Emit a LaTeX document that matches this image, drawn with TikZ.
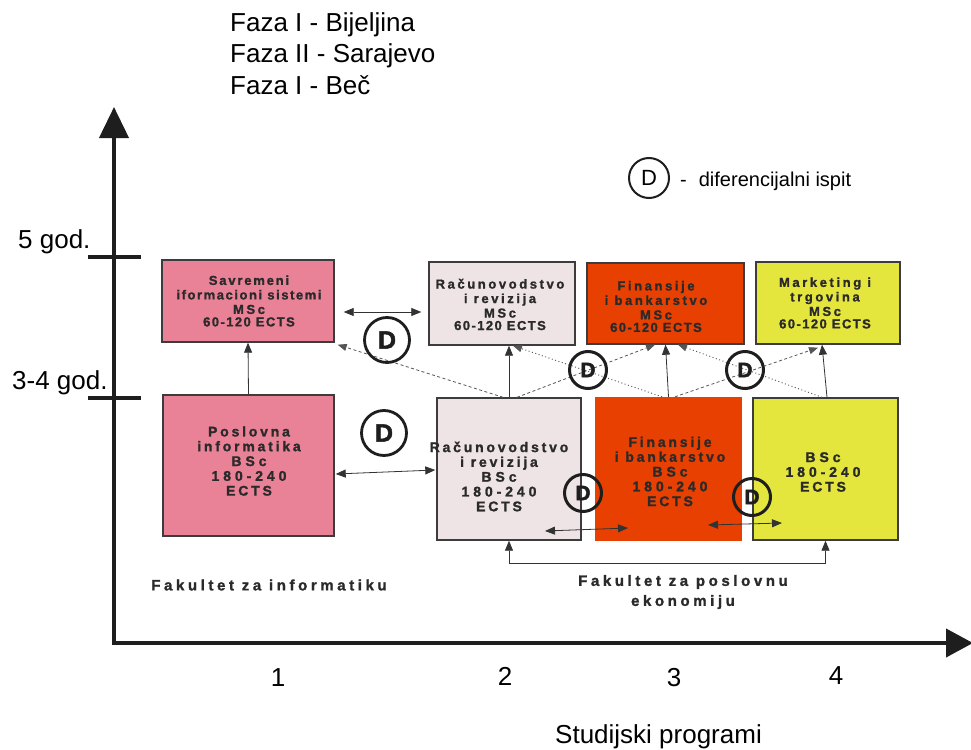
\documentclass[tikz,border=0pt]{standalone}
\usepackage{fontspec}
\setmainfont{Liberation Sans}
\newfontfamily\bxf[BoldFeatures={FakeBold=1.4}]{Liberation Sans}
\newfontfamily\Dfont[BoldFeatures={FakeBold=2}]{Liberation Sans}
\usetikzlibrary{arrows.meta,calc}
\newcommand\LS[1]{\addfontfeature{LetterSpace=#1}}
\definecolor{pinkc}{HTML}{E98297}
\definecolor{lightc}{HTML}{EEE4E6}
\definecolor{orangec}{HTML}{E84000}
\definecolor{yellowc}{HTML}{E4E63E}
\definecolor{borderc}{HTML}{3C3C3C}
\definecolor{textc}{HTML}{2A2A2A}
\definecolor{linec}{HTML}{333333}
\definecolor{dashc}{HTML}{555555}
\definecolor{axisc}{HTML}{1E1E1E}
\tikzset{
  box/.style={draw=borderc, line width=1.4pt, inner sep=0pt},
  msc/.style={font=\fontsize{13}{14.5}\selectfont\bxf\bfseries\LS{20}, align=center, text=textc, inner sep=0pt},
  bsc/.style={font=\fontsize{14}{14.8}\selectfont\bxf\bfseries\LS{20}, align=center, text=textc, inner sep=0pt},
  fak/.style={font=\fontsize{15}{20}\selectfont\bxf\bfseries\LS{24}, align=center, text=textc, inner sep=0pt},
  big/.style={font=\fontsize{26}{31}\selectfont, text=black, inner sep=0pt},
  dbig/.style={circle, draw=axisc, line width=2.8pt, minimum size=45pt, inner sep=0pt, font=\fontsize{25}{25}\selectfont\Dfont\bfseries, text=axisc},
  dsmall/.style={circle, draw=axisc, line width=3pt, minimum size=37pt, inner sep=0pt, font=\fontsize{21}{21}\selectfont\Dfont\bfseries, text=axisc},
  axis/.style={draw=axisc, line width=4pt},
  arr/.style={draw=linec, line width=0.8pt, -{Triangle[length=10pt,width=8pt]}},
  darr/.style={draw=linec, line width=0.8pt, {Triangle[length=10pt,width=8pt]}-{Triangle[length=10pt,width=8pt]}},
  dsh/.style={draw=dashc, line width=0.8pt, dash pattern=on 3pt off 2.5pt, -{Triangle[length=9pt,width=7pt]}},
  dtt/.style={draw=dashc, line width=0.9pt, dash pattern=on 1pt off 2.5pt, -{Triangle[length=9pt,width=7pt]}},
}
\begin{document}
\begin{tikzpicture}[x=1pt,y=-1pt]
\useasboundingbox[fill=white] (0,0) rectangle (971,749);

% axes
\coordinate (ytop) at (114,107);
\coordinate (orig) at (114,643);
\coordinate (xend) at (973,643);
\draw[axis, {Triangle[length=31pt,width=29pt]}-{Triangle[length=27pt,width=28pt]}] (ytop) -- (orig) -- (xend);
\coordinate (t5a) at (88,257); \coordinate (t5b) at (141,257);
\coordinate (t3a) at (88,398); \coordinate (t3b) at (141,398);
\draw[axis] (t5a) -- (t5b);
\draw[axis] (t3a) -- (t3b);
\node[big, anchor=base west] (g5) at (18,248) {5 god.};
\node[big, anchor=base west] (g34) at (12,389) {3-4 god.};

% top texts
\node[big, anchor=base west] (f1) at (230,32) {Faza I - Bijeljina};
\node[big, anchor=base west] (f2) at (230,63) {Faza II - Sarajevo};
\node[big, anchor=base west] (f3) at (230,95) {Faza I - Beč};

% legend
\node[circle, draw=axisc, line width=2pt, minimum size=40pt, inner sep=0pt, font=\fontsize{22}{22}\selectfont] (legD) at (649,178) {D};
\node[font=\fontsize{20}{24}\selectfont, anchor=base west, inner sep=0pt] (legT) at (680,186) {-\hspace{0.6em}diferencijalni ispit};

% boxes
\node[box, fill=pinkc, minimum width=172pt, minimum height=82pt] (box1) at (248,301) {};
\node[box, fill=lightc, minimum width=146pt, minimum height=83pt] (box2) at (502,303.5) {};
\node[box, fill=orangec, minimum width=157pt, minimum height=81pt] (box3) at (665.5,303.5) {};
\node[box, fill=yellowc, minimum width=144pt, minimum height=82pt] (box4) at (828,303) {};
\node[box, fill=pinkc, minimum width=171pt, minimum height=141pt] (box5) at (248.5,465.5) {};
\node[box, fill=lightc, minimum width=144pt, minimum height=142pt] (box6) at (509,469) {};
\node[fill=orangec, inner sep=0pt, minimum width=147pt, minimum height=144pt] (box7) at (668.5,469) {};
\node[box, fill=yellowc, minimum width=145pt, minimum height=142pt] (box8) at (825.5,469) {};

% box texts
\node[msc] (tx1) at (249,301) {{\LS{14}Savremeni}\\{\LS{12}iformacioni sistemi}\\MSc\\[-2pt]{\LS{11}60-120 ECTS}};
\node[msc] (tx2) at (500,304.5) {Računovodstvo\\i revizija\\MSc\\[-2pt]{\LS{11}60-120 ECTS}};
\node[msc] (tx3) at (656,306.5) {Finansije\\i bankarstvo\\MSc\\[-2pt]{\LS{11}60-120 ECTS}};
\node[msc] (tx4) at (825,303) {Marketing i\\trgovina\\MSc\\[-2pt]{\LS{11}60-120 ECTS}};
\node[bsc] (tx5) at (249,461) {Poslovna\\informatika\\{\LS{28}BSc}\\{\LS{28}180-240}\\ECTS};
\node[bsc] (tx6) at (499,476.5) {Računovodstvo\\i revizija\\{\LS{28}BSc}\\{\LS{28}180-240}\\ECTS};
\node[bsc] (tx7) at (670,471.5) {Finansije\\i bankarstvo\\{\LS{28}BSc}\\{\LS{28}180-240}\\ECTS};
\node[bsc] (tx8) at (823,472) {{\LS{28}BSc}\\{\LS{28}180-240}\\ECTS};

% solid arrows
\draw[arr] (box5.north) -- (box1.south);
\draw[arr] (box6.north) -- (box6.north |- box2.south);
\draw[arr] (box7.north) -- (box3.south);
\draw[arr] ([xshift=1.5pt]box8.north) -- ([xshift=-6pt]box4.south);
\draw[darr] ([shift={(9,11)}]box1.east) -- ([shift={(-7,8.5)}]box2.west);
\draw[darr] ([shift={(1,8.5)}]box5.east) -- ([shift={(-1,1)}]box6.west);
\draw[darr] ([shift={(36,62)}]box6.center) -- ([shift={(-40.5,59)}]box7.center);
\draw[darr] ([shift={(39.5,56)}]box7.center) -- ([shift={(-43.5,54)}]box8.center);
\draw[darr] (box6.south) -- ++(0,23) -| (box8.south);

% dashed / dotted
\draw[dsh] ([xshift=-6pt]box6.north) -- ([shift={(3,2)}]box1.south east);
\draw[dsh] ([xshift=8pt]box6.north) -- ([xshift=-10.5pt]box3.south);
\draw[dtt] ([xshift=-6.5pt]box7.north) -- ([xshift=11pt]box2.south);
\draw[dsh] ([xshift=6.5pt]box7.north) -- ([shift={(-10,3)}]box4.south);
\draw[dtt] ([xshift=-3.5pt]box8.north) -- ([xshift=12.5pt]box3.south);

% D circles
\node[dbig] (d1) at (387,340) {D};
\node[dbig] (d2) at (384,433) {D};
\node[dsmall] (d3) at (588,370) {D};
\node[dsmall] (d4) at (745,370) {D};
\node[dsmall] (d5) at (583,493) {D};
\node[dsmall] (d6) at (752,497) {D};

% faculty labels
\node[fak] (fi) at (269,585) {Fakultet za informatiku};
\node[fak] (fe) at (683,592) {Fakultet za poslovnu\\ekonomiju};

% axis labels
\node[big] (n1) at (278,678) {1};
\node[big] (n2) at (505,676) {2};
\node[big] (n3) at (674,678) {3};
\node[big] (n4) at (836,676) {4};
\node[big, anchor=base west] (sp) at (555,743) {Studijski programi};
\end{tikzpicture}
\end{document}
